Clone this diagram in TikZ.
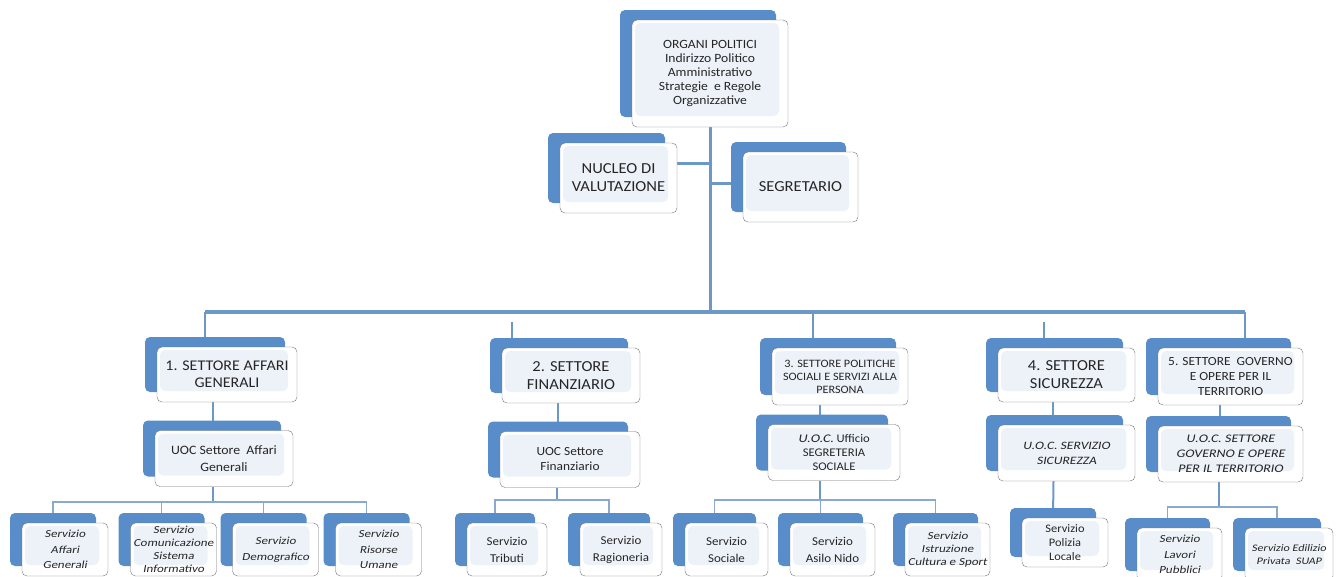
\documentclass[tikz,border=0pt]{standalone}
\usepackage{fontspec}
\setmainfont{Carlito}[FakeStretch=1.08]
\newfontfamily\itf{Carlito}[FakeSlant=0.18,FakeStretch=1.2]
\usetikzlibrary{shadows,backgrounds}
\definecolor{cblu}{RGB}{88,141,201}
\definecolor{cline}{RGB}{108,152,198}
\definecolor{ctwig}{RGB}{138,170,205}
\definecolor{cin}{RGB}{237,242,249}
\definecolor{cedge}{RGB}{118,118,118}
\definecolor{ctext}{RGB}{38,38,38}
\newcommand\forg{\fontsize{12.6}{14.2}\selectfont}
\newcommand\fbig{\fontsize{15.3}{18}\selectfont}
\newcommand\fsett{\fontsize{14.8}{17}\selectfont}
\newcommand\fmid{\fontsize{12.4}{15}\selectfont}
\newcommand\fsml{\fontsize{11.3}{13}\selectfont}
\newcommand\fsrv{\fontsize{12}{17}\selectfont}
\newcommand\fital{\itf\fontsize{10.8}{15.5}\selectfont}
\newcommand\fitsm{\itf\fontsize{10.8}{13.2}\selectfont}
\tikzset{box/.style={draw=cedge,fill=white,rounded corners=5pt,align=center,text=ctext,inner sep=0pt,
    general shadow={fill=cblu,shadow xshift=-12pt,shadow yshift=10pt},
    path picture={\fill[cin] ([xshift=3pt,yshift=-3pt]path picture bounding box.north west)
      rectangle ([xshift=-9pt,yshift=11pt]path picture bounding box.south east);}},
  bus/.style={cline,line width=3.5pt},
  link/.style={cline,line width=2pt},
  twig/.style={ctwig,line width=1.4pt}}

\begin{document}
\begin{tikzpicture}[x=1pt,y=-1pt]%
        \clip (0,0) rectangle (1339,576);%%
        %\draw[step=10pt,color=gray,very thin] (0,0) grid (1339,576);%%
        \begin{scope}
        \tikzstyle{every node}=[box,font=\fbig] %%
        \node[font=\forg,minimum width=156pt,minimum height=107pt] (org) at (710,73.5)
          {ORGANI POLITICI\\Indirizzo Politico\\Amministrativo\\Strategie~ e Regole\\Organizzative}; %%
        \node[minimum width=117pt,minimum height=70pt] (nuc) at (618.5,178) {NUCLEO DI\\VALUTAZIONE}; %%
        \node[minimum width=115pt,minimum height=70pt] (seg) at (800.5,187) {SEGRETARIO}; %%
        \end{scope}
        % settori
        \begin{scope}
        \tikzstyle{every node}=[box,font=\fbig,minimum height=55pt] %%
        \node[font=\fsett,minimum width=140pt] (s1) at (227,374.5) {1. SETTORE AFFARI\\GENERALI}; %%
        \node[minimum width=138pt] (s2) at (571,375.5) {2. SETTORE\\FINANZIARIO}; %%
        \node[font=\fsml,minimum width=136pt,minimum height=57pt] (s3) at (840,376.5)
          {3. SETTORE POLITICHE\\SOCIALI E SERVIZI ALLA\\PERSONA}; %%
        \node[minimum width=137pt,minimum height=54pt] (s4) at (1066.5,375) {4. SETTORE\\SICUREZZA}; %%
        \node[font=\fmid,minimum width=145pt,minimum height=57pt] (s5) at (1230.5,376.5)
          {5. SETTORE~ GOVERNO\\E OPERE PER IL\\TERRITORIO}; %%
        \end{scope}
        % unita' operative
        \begin{scope}
        \tikzstyle{every node}=[box,font=\fmid,minimum height=56pt] %%
        \node[font=\fontsize{12.8}{17}\selectfont,minimum width=138pt] (u1) at (224,458.5) {UOC Settore~ Affari\\Generali}; %%
        \node[minimum width=140pt] (u2) at (570,459.5) {UOC Settore\\Finanziario}; %%
        \node[font=\fontsize{11.7}{14}\selectfont,minimum width=132pt] (u3) at (834,452.5) {{\itf U.O.C.} Ufficio\\SEGRETERIA\\SOCIALE}; %%
        \node[font=\itf\fontsize{11.3}{15}\selectfont,minimum width=137pt] (u4) at (1066.5,453) {U.O.C. SERVIZIO\\SICUREZZA}; %%
        \node[font=\itf\fontsize{11.6}{15}\selectfont,minimum width=145pt] (u5) at (1230.5,454)
          {U.O.C. SETTORE\\GOVERNO E OPERE\\PER IL TERRITORIO}; %%
        \end{scope}
        % servizi
        \begin{scope}
        \tikzstyle{every node}=[box,font=\fital,minimum height=53pt,minimum width=86pt] %%
        \node (a1) at (65,549.5) {Servizio\\Affari\\Generali}; %%
        \node[font=\fitsm] (a2) at (173.5,549.5) {Servizio\\Comunicazione\\Sistema\\Informativo}; %%
        \node (a3) at (275.5,549.5) {Servizio\\Demografico}; %%
        \node (a4) at (378.5,549.5) {Servizio\\Risorse\\Umane}; %%
        \node[font=\fsrv,minimum width=80pt] (f1) at (507,549.5) {Servizio\\Tributi}; %%
        \node[font=\fsrv,minimum width=82pt] (f2) at (621,549.5) {Servizio\\Ragioneria}; %%
        \node[font=\fsrv,minimum width=83pt] (p1) at (726.5,549.5) {Servizio\\Sociale}; %%
        \node[font=\fsrv,minimum width=85pt] (p2) at (832.5,549.5) {Servizio\\Asilo Nido}; %%
        \node[font=\fitsm,minimum width=85pt] (p3) at (947.5,549.5) {Servizio\\Istruzione\\Cultura e Sport}; %%
        \node[font=\fontsize{11.5}{14}\selectfont,minimum height=49pt] (g1) at (1065,542.5) {Servizio\\Polizia\\Locale}; %%
        \node[minimum width=85pt] (l1) at (1179.5,554.5) {Servizio\\Lavori\\Pubblici}; %%
        \node[font=\itf\fontsize{10}{13}\selectfont,minimum width=88pt] (l2) at (1289,554.5) {Servizio Edilizio\\Privata~ SUAP}; %%
        \end{scope}
        % collegamenti
        \coordinate (barL) at (205,312); %%
        \coordinate (barR) at (1245,312); %%
        \coordinate (r1) at (213,502); %%
        \coordinate (r2) at (557,500); %%
        \coordinate (r3) at (820,500); %%
        \coordinate (r5) at (1219,507); %%
        \begin{scope}[on background layer]
        \draw[bus,line width=3pt] (org.south) -- (org.south |- barL); %%
        \draw[bus,line width=3pt] ([yshift=15pt]nuc.east) -| (org.south); %%
        \draw[bus,line width=3pt] ([yshift=4pt]seg.west) -| (org.south); %%
        \draw[bus] (barL) -- (barR); %%
        \draw[bus,line width=2.5pt] (barL) -- (barL |- s1.north); %%
        \draw[bus,line width=2.5pt] ([xshift=-27pt]s3.north |- barL) -- ([xshift=-27pt]s3.north); %%
        \draw[bus,line width=2.5pt] (barR) -- (barR |- s5.north); %%
        \draw[bus,line width=2.5pt] ([xshift=-59pt,yshift=26pt]s2.north) -- ([xshift=-59pt]s2.north); %%
        \draw[bus,line width=2.5pt] ([xshift=-22.5pt,yshift=26pt]s4.north) -- ([xshift=-22.5pt]s4.north); %%
        \draw[link] ([xshift=-14pt]s1.south) -- ([xshift=-14pt]s1.south |- u1.north); %%
        \draw[link] ([xshift=-13pt]s2.south) -- ([xshift=-13pt]s2.south |- u2.north); %%
        \draw[link] ([xshift=-20pt]s3.south) -- ([xshift=-20pt]s3.south |- u3.north); %%
        \draw[link] ([xshift=-13.5pt]s4.south) -- ([xshift=-13.5pt]s4.south |- u4.north); %%
        \draw[link] ([xshift=-10.5pt]s5.south) -- ([xshift=-10.5pt]s5.south |- u5.north); %%
        \draw[link] (u1.south -| r1) -- (r1); %%
        \draw[link] (u2.south -| r2) -- (r2); %%
        \draw[link] (u3.south -| r3) -- (r3); %%
        \draw[link] (u5.south -| r5) -- (r5); %%
        \draw[link] ([xshift=-13pt]u4.south) -- ([xshift=-12pt]g1.north); %%
        \draw[twig] ([xshift=-12pt]a1.north) |- (r1) -| ([xshift=-12pt]a4.north); %%
        \draw[twig] ([xshift=-12pt]a2.north) -- ([xshift=-12pt]a2.north |- r1); %%
        \draw[twig] ([xshift=-12pt]a3.north) -- ([xshift=-12pt]a3.north |- r1); %%
        \draw[twig] ([xshift=-12pt]f1.north) |- (r2) -| ([xshift=-12pt]f2.north); %%
        \draw[twig] ([xshift=-12pt]p1.north) |- (r3) -| ([xshift=-12pt]p3.north); %%
        \draw[twig] ([xshift=-12pt]p2.north) -- ([xshift=-12pt]p2.north |- r3); %%
        \draw[twig] ([xshift=-12pt]l1.north) |- (r5) -| ([xshift=-12pt]l2.north); %%
        \end{scope}
\end{tikzpicture}
\end{document}
